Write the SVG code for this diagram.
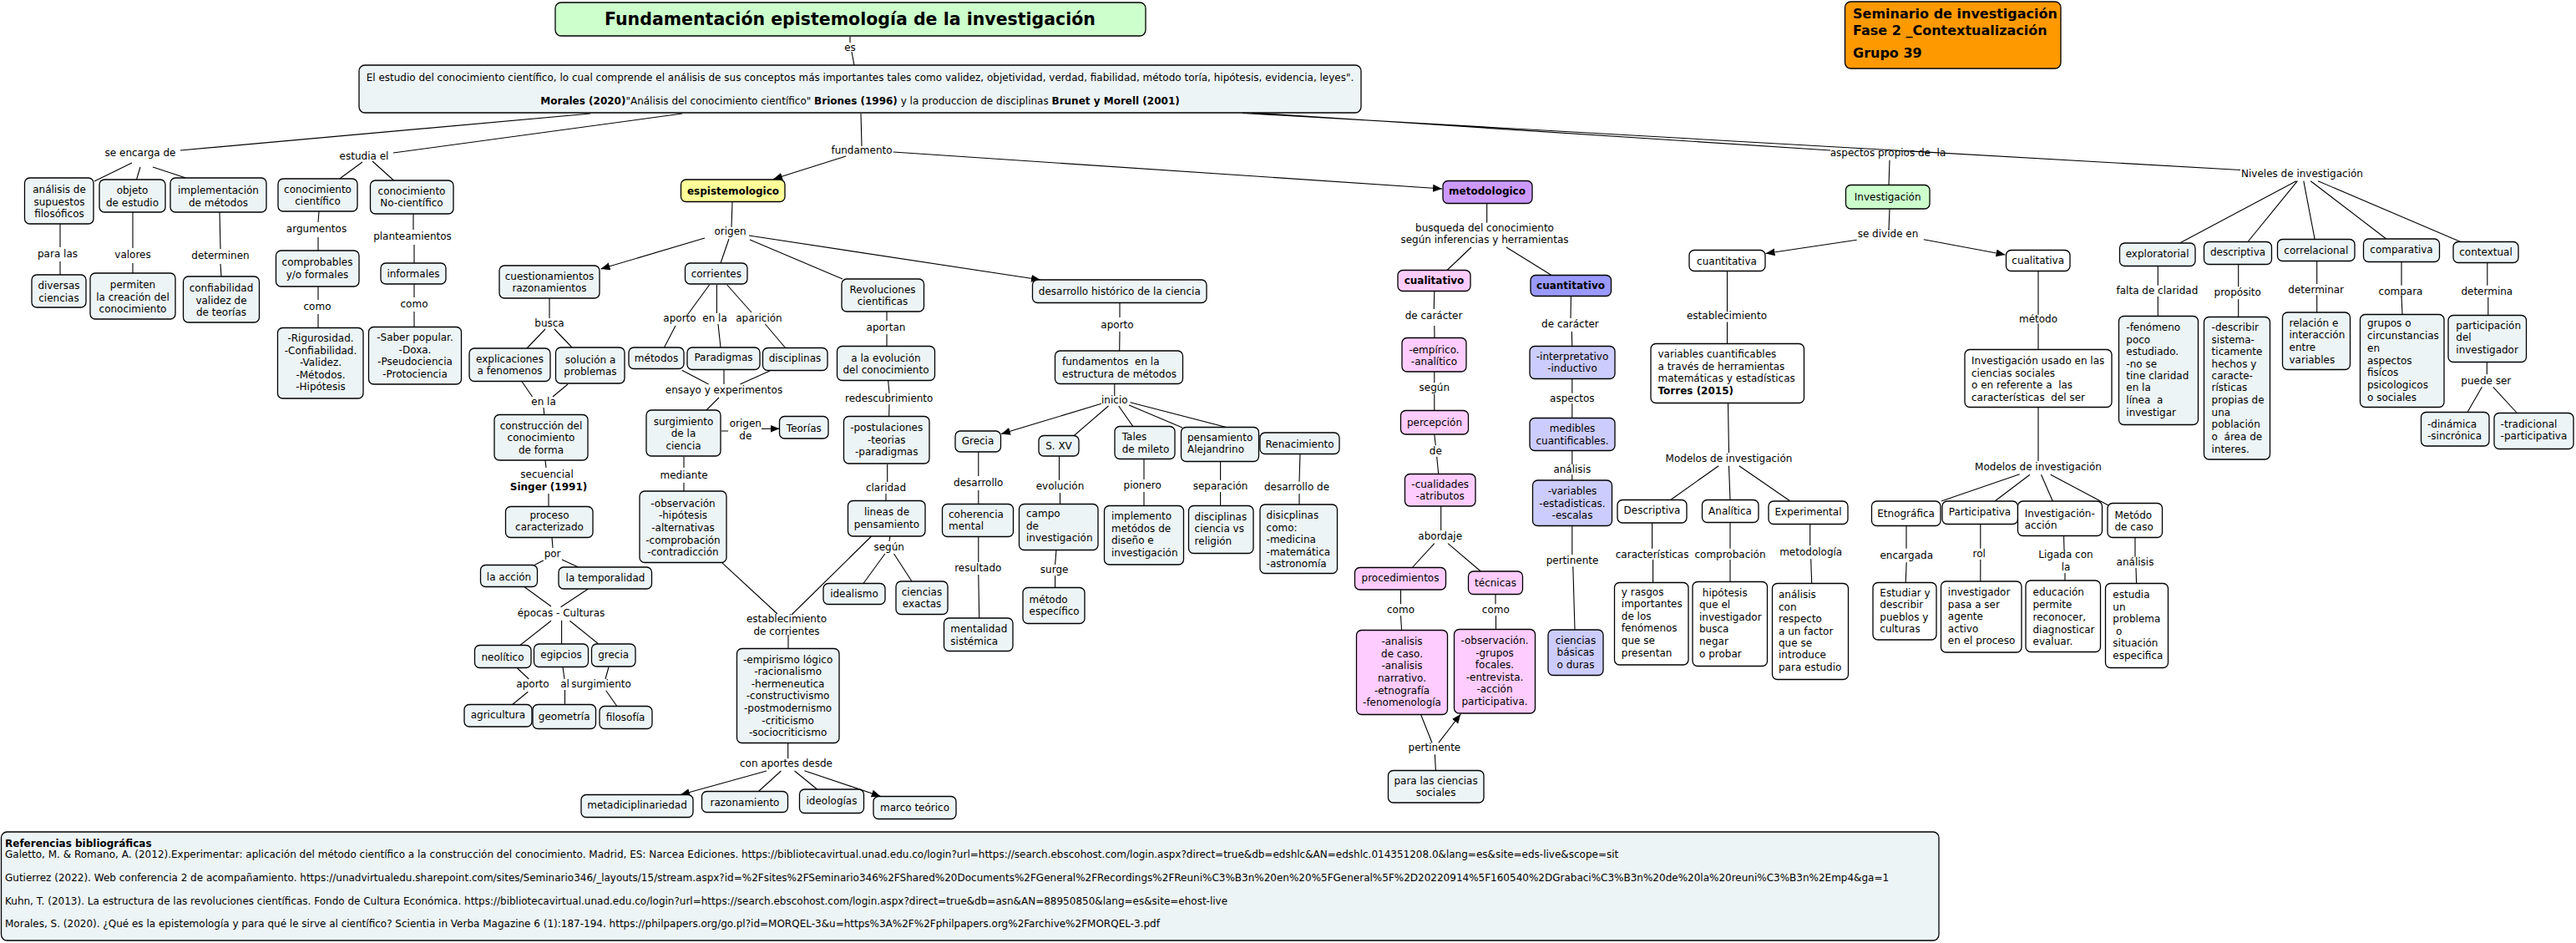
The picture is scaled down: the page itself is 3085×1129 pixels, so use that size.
<svg xmlns="http://www.w3.org/2000/svg" width="3085" height="1129" viewBox="0 0 3085 1129">
<style>
text{font-family:'DejaVu Sans',Verdana,sans-serif;font-size:12px;fill:#000}
.m{text-anchor:middle}
.b{font-weight:bold}
.c{fill:#EDF4F6;stroke:#000;stroke-width:1.3}
.w{fill:#FFFFFF}.pk{fill:#FFCCFF}.lv{fill:#CCCCFF}.bl{fill:#9999FF}.pu{fill:#CC99FF}.gr{fill:#CCFFCC}.yl{fill:#FFFF99}.or{fill:#FF9900}
.ln{fill:none;stroke:#000;stroke-width:1.1}
</style>
<defs>
<marker id="ah" markerUnits="userSpaceOnUse" markerWidth="12" markerHeight="10" refX="11" refY="4.5" orient="auto"><path d="M0,0 L11,4.5 L0,9 z" fill="#000"/></marker>
</defs>
<rect width="3085" height="1129" fill="#fff"/>
<g id="connectors">
<path class="ln" d="M1018,44 L1018,51 M1020,62 L1023,78 M707,136 L216,180 M817,136 L471,183 M158,195 L113,217 M168,200 L163.5,215 M183,200 L222.5,213 M434,194 L406.7,214 M446,193 L471.5,216 M72,268 L72,296 M72,313 L72,329 M159,254 L159,297 M159,315 L159,327 M263,254 L264,298 M264,316 L265,331 M382,253 L381,266 M381,284 L381,300 M495,256 L495,275 M496,293 L496,315 M381,343 L381,359 M381,376 L381,393 M496,340 L496,356 M496,373 L496,392"/>
<path class="ln" d="M1031,136 L1032,175 M877,242 L876,272 M873,286 L863,315 M898,287 L1009,334 M849.6,341 L824,376 M809,390 L795.5,416 M858.4,341 L858.4,375 M860,388 L863,416 M870.7,341 L900,374 M916.4,388 L941,417 M816.7,443.3 L848.6,460 M867,443 L867,460 M922,444 L886.4,460 M861,476 L846,491 M864,516 L872,516 M819,546.7 L819,560 M819,578 L819,588 M1062,373 L1062,384 M1062,400 L1062,414.5 M1063.7,456 L1065,471 M1065,484 L1064.7,498.5 M1062.7,555.7 L1062.7,577 M1061,591 L1061,599.5 M1066,642 L1065,648 M1059.8,663 L1034,698.5 M1070.6,663 L1092,696 M1043.6,642 L948,736 M864.3,673.3 L931,735 M944,760 L944,776.7 M943.7,890 L943.7,908 M935.4,923 L908.4,947.5 M951.6,923 L978.6,945"/>
<path class="ln" d="M658,357 L658,381 M653,394 L631,417 M664,394 L685,416 M625,456.7 L637.5,475 M680,460 L662,475 M651,488 L651.8,496.7 M653,551 L654,560 M657,591 L657,606.7 M661,643.3 L662,656 M650.8,671 L639.5,676.7 M673,670 L692.5,679 M628.4,703 L660,726 M704.5,705 L671.6,726.7 M660,743.3 L622.5,772.7 M672.6,742.7 L672.6,771 M682.4,743.3 L716.8,771 M619.6,800 L633.3,813 M632.3,828.3 L613.7,843.5 M674,798.5 L676,813 M676.5,826 L676.5,843.5 M729,798.5 L725,813 M725.7,826.7 L739,845.7"/>
<path class="ln" d="M1341,362.5 L1341,380 M1341,397 L1340.7,420 M1334.8,460 L1334.8,474 M1327.5,486 L1285.7,522 M1339.7,486 L1357,510.7 M1352,485 L1416,512 M1353.5,481.7 L1509,522 M1171.8,540.7 L1171.8,570 M1171.8,587 L1171.8,603.5 M1171.8,642.3 L1171.8,673 M1171.8,688 L1172.7,740 M1268.5,546 L1268.5,575 M1269.5,590 L1269.5,603.5 M1265,658.3 L1263.6,676 M1263.6,689 L1263.6,703.5 M1370,549.3 L1370,574 M1370,589 L1370,605.7 M1461.6,552.3 L1461.6,575 M1461.6,589 L1461.6,605.7 M1557,543.3 L1556,576.7 M1556,591 L1556,604"/>
<path class="ln" d="M1780.7,243.5 L1780.7,266.7 M1762,296 L1733,323.5 M1804,296 L1858,329.5 M1717.8,348.5 L1717.3,370 M1717.8,390 L1718,404.5 M1881.4,354.5 L1881,381 M1882.3,397 L1882.8,414.5 M1717.8,445 L1717.8,458.3 M1717.8,471.7 L1717.8,491.7 M1717.8,520 L1719.3,533.3 M1720.7,546.7 L1722.7,567.5 M1725.7,606 L1725.7,635 M1717.8,650.7 L1691.3,679.5 M1734,650.7 L1773.3,684 M1677.5,706 L1677.5,723.3 M1677.5,737 L1678.6,754.5 M1791,711.5 L1791,723.3 M1791.5,737 L1791.5,753.5 M1701.7,855.7 L1715,889.3 M1718.4,903.3 L1719.4,922.5 M1882.8,453.5 L1882.8,470.7 M1882.8,483.3 L1882.8,500.7 M1882.8,539.5 L1882.8,556 M1882.8,568.3 L1882.8,575 M1882.8,629.5 L1882.8,664.3 M1883.8,678.3 L1886,754"/>
<path class="ln" d="M1500,135 L2192,180 M1488,135.5 L2683,203.5 M2263,191.7 L2262,221.7 M2263,250 L2262,275 M2068.5,324.5 L2068.5,373.3 M2068.5,385.5 L2068.5,411.7 M2069.5,482.5 L2070.5,542.3 M2058.2,557.7 L2000.7,598.5 M2070.5,557.7 L2072,598.5 M2082.7,557.7 L2144,600 M1978.6,626 L1978.6,656.7 M1979.6,670 L1979.6,697.5 M2072,625.5 L2072,656.7 M2072,670 L2072,696.7 M2167.7,627.5 L2167.7,653.3 M2168.7,669.3 L2169.7,698.5 M2441,324.5 L2441,376.7 M2441,387.3 L2441,418.5 M2441,487.5 L2441,552 M2418.7,567.7 L2324.8,600 M2431,568.3 L2389,600 M2444.5,568.3 L2458.3,600 M2455.8,568.3 L2525,605 M2283,629.5 L2283,656.7 M2283.2,673.3 L2282.2,697.5 M2371.8,627.5 L2371.8,656.7 M2371.8,670 L2371.8,696 M2471.6,641.5 L2472,658.3 M2473,686 L2473,695 M2557,643.5 L2557,666.7 M2558,680 L2558.6,698.5"/>
<path class="ln" d="M2750,216.7 L2610.5,291 M2751.4,216.7 L2692,289.5 M2758.8,216.7 L2772.2,286.7 M2767.2,216.7 L2857.7,286 M2776,216.7 L2946.7,289.5 M2584.3,318.5 L2584.3,341.7 M2584.3,355 L2584.3,378.5 M2680.7,316.5 L2680.7,343.3 M2680.7,358.3 L2680.7,379.5 M2774.7,312.5 L2774.7,340 M2774.7,353.3 L2774.7,374 M2876,313.5 L2876,341.7 M2876,355 L2877,376.5 M2978.8,314.5 L2978.8,341.7 M2979.8,356 L2979.8,377.5 M2978.3,433.5 L2978.3,448.3 M2972.4,463.3 L2955,493.5 M2985.7,463.3 L3014.4,494.5"/>
<path class="ln" marker-end="url(#ah)" d="M1013,187 L926,214.5"/>
<path class="ln" marker-end="url(#ah)" d="M1070,182 L1727,226"/>
<path class="ln" marker-end="url(#ah)" d="M844,285 L719.5,322"/>
<path class="ln" marker-end="url(#ah)" d="M897,282 L1246,335"/>
<path class="ln" marker-end="url(#ah)" d="M912,513.3 L933.5,513.3"/>
<path class="ln" marker-end="url(#ah)" d="M918,923 L815,951.5"/>
<path class="ln" marker-end="url(#ah)" d="M963.4,922.7 L1054.7,953.5"/>
<path class="ln" marker-end="url(#ah)" d="M1319,483.3 L1199,519.5"/>
<path class="ln" marker-end="url(#ah)" d="M1722.8,889.3 L1749.3,855"/>
<path class="ln" marker-end="url(#ah)" d="M2223.7,287.3 L2114.5,303.5"/>
<path class="ln" marker-end="url(#ah)" d="M2303.8,286.7 L2401.5,305"/>
</g>
<g id="title"><rect class="c gr" x="665" y="3" width="707" height="40" rx="7"/><text class="m b" x="1018" y="30" style="font-size:20.5px">Fundamentación epistemología de la investigación</text></g>
<g id="seminario"><rect class="c or" x="2209.5" y="2" width="258.5" height="80" rx="7"/><text class="b" style="font-size:16px"><tspan x="2219" y="22">Seminario de investigación</tspan><tspan x="2219" y="41.5">Fase 2 _Contextualización</tspan><tspan x="2219" y="69">Grupo 39</tspan></text></g>
<g id="principal"><rect class="c" x="430" y="78" width="1200" height="57" rx="7"/><text class="m" x="1030" y="96.5">El estudio del conocimiento científico, lo cual comprende el análisis de sus conceptos más importantes tales como validez, objetividad, verdad, fiabilidad, método toría, hipótesis, evidencia, leyes".</text><text class="m" x="1030" y="125" xml:space="preserve"><tspan class="b">Morales (2020)</tspan>"Análisis del conocimiento científico" <tspan class="b">Briones (1996)</tspan> y la produccion de disciplinas <tspan class="b">Brunet y Morell (2001)</tspan></text></g>
<g id="n4"><rect class="c" x="29.5" y="213" width="82.5" height="55" rx="6"/><text class="m"><tspan x="71" y="231">análisis de</tspan><tspan x="71" y="246">supuestos</tspan><tspan x="71" y="260">filosóficos</tspan></text></g>
<g id="n5"><rect class="c" x="119" y="215" width="79" height="39" rx="6"/><text class="m"><tspan x="158.5" y="232">objeto</tspan><tspan x="158.5" y="247">de estudio</tspan></text></g>
<g id="n6"><rect class="c" x="204" y="213" width="115" height="41" rx="6"/><text class="m"><tspan x="261.5" y="232.3">implementación</tspan><tspan x="261.5" y="246.7">de métodos</tspan></text></g>
<g id="n7"><rect class="c" x="333" y="214" width="95" height="39" rx="6"/><text class="m"><tspan x="380.5" y="230.7">conocimiento</tspan><tspan x="380.5" y="244.7">científico</tspan></text></g>
<g id="n8"><rect class="c" x="443.5" y="216" width="99.5" height="40" rx="6"/><text class="m"><tspan x="493" y="233">conocimiento</tspan><tspan x="493" y="247.3">No-científico</tspan></text></g>
<g id="n9"><rect class="c" x="38" y="329" width="65" height="39" rx="6"/><text class="m"><tspan x="70.5" y="346">diversas</tspan><tspan x="70.5" y="361">ciencias</tspan></text></g>
<g id="n10"><rect class="c" x="108" y="327" width="102" height="55" rx="6"/><text class="m"><tspan x="159" y="345">permiten</tspan><tspan x="159" y="359.5">la creación del</tspan><tspan x="159" y="374">conocimiento</tspan></text></g>
<g id="n11"><rect class="c" x="219.5" y="331" width="91" height="55" rx="6"/><text class="m"><tspan x="265" y="349">confiabilidad</tspan><tspan x="265" y="363.5">validez de</tspan><tspan x="265" y="378">de teorías</tspan></text></g>
<g id="n12"><rect class="c" x="330.5" y="300" width="99.5" height="43" rx="6"/><text class="m"><tspan x="380" y="318">comprobables</tspan><tspan x="380" y="332.5">y/o formales</tspan></text></g>
<g id="n13"><rect class="c" x="456" y="315" width="78" height="25" rx="6"/><text class="m" x="495" y="332">informales</text></g>
<g id="n14"><rect class="c" x="598" y="318" width="120" height="39" rx="6"/><text class="m"><tspan x="658" y="335">cuestionamientos</tspan><tspan x="658" y="349">razonamientos</tspan></text></g>
<g id="n15"><rect class="c" x="332.5" y="392.5" width="102.5" height="84.5" rx="6"/><text class="m"><tspan x="384" y="409">-Rigurosidad.</tspan><tspan x="384" y="423.7">-Confiabilidad.</tspan><tspan x="384" y="438">-Validez.</tspan><tspan x="384" y="452.7">-Métodos.</tspan><tspan x="384" y="467.3">-Hipótesis</tspan></text></g>
<g id="n16"><rect class="c" x="441.5" y="391.5" width="111" height="68.5" rx="6"/><text class="m"><tspan x="497" y="408.3">-Saber popular.</tspan><tspan x="497" y="422.7">-Doxa.</tspan><tspan x="497" y="437">-Pseudociencia</tspan><tspan x="497" y="451.7">-Protociencia</tspan></text></g>
<g id="n17"><rect class="c" x="562" y="417" width="97" height="39.5" rx="6"/><text class="m"><tspan x="610.5" y="434">explicaciones</tspan><tspan x="610.5" y="448.3">a fenomenos</tspan></text></g>
<g id="n18"><rect class="c" x="665.5" y="416" width="82.5" height="43" rx="6"/><text class="m"><tspan x="707" y="435">solución a</tspan><tspan x="707" y="449.3">problemas</tspan></text></g>
<g id="n19"><rect class="c" x="592" y="496.5" width="112" height="54.5" rx="6"/><text class="m"><tspan x="648" y="514">construcción del</tspan><tspan x="648" y="528.3">conocimiento</tspan><tspan x="648" y="542.7">de forma</tspan></text></g>
<g id="n20"><rect class="c" x="605.5" y="606.5" width="104.5" height="37" rx="6"/><text class="m"><tspan x="658" y="621.3">proceso</tspan><tspan x="658" y="635">caracterizado</tspan></text></g>
<g id="n21"><rect class="c" x="575.5" y="676.5" width="68" height="26" rx="6"/><text class="m" x="609.5" y="694.7">la acción</text></g>
<g id="n22"><rect class="c" x="669" y="679" width="111.5" height="26" rx="6"/><text class="m" x="725" y="695.5">la temporalidad</text></g>
<g id="n23"><rect class="c" x="568.5" y="772.5" width="67.5" height="27" rx="6"/><text class="m" x="602" y="790.7">neolítico</text></g>
<g id="n24"><rect class="c" x="639.5" y="771" width="65" height="27.5" rx="6"/><text class="m" x="672" y="788">egipcios</text></g>
<g id="n25"><rect class="c" x="708.5" y="771" width="52.5" height="27" rx="6"/><text class="m" x="734.7" y="788">grecia</text></g>
<g id="n26"><rect class="c" x="556" y="843.5" width="81" height="26.5" rx="6"/><text class="m" x="596.4" y="860">agricultura</text></g>
<g id="n27"><rect class="c" x="638" y="843.5" width="75.5" height="29" rx="6"/><text class="m" x="675.7" y="861.7">geometría</text></g>
<g id="n28"><rect class="c" x="718" y="845.5" width="63" height="27" rx="6"/><text class="m" x="749" y="863.3">filosofía</text></g>
<g id="n29"><rect class="c yl" x="815.5" y="215" width="124.5" height="26.5" rx="6"/><text class="m b" x="878" y="232.7">espistemologico</text></g>
<g id="n30"><rect class="c" x="820.5" y="315" width="74.5" height="25" rx="6"/><text class="m" x="857.8" y="332.3">corrientes</text></g>
<g id="n31"><rect class="c" x="1008" y="334" width="98.5" height="39" rx="6"/><text class="m"><tspan x="1057" y="350.7">Revoluciones</tspan><tspan x="1057" y="365">cientificas</tspan></text></g>
<g id="n32"><rect class="c" x="1236.5" y="335" width="208.5" height="27.5" rx="6"/><text class="m" x="1340.8" y="353.3">desarrollo histórico de la ciencia</text></g>
<g id="n33"><rect class="c" x="753" y="416" width="66" height="25.5" rx="6"/><text class="m" x="786" y="433">métodos</text></g>
<g id="n34"><rect class="c" x="823" y="416" width="87" height="26.5" rx="6"/><text class="m" x="866.5" y="431.7">Paradigmas</text></g>
<g id="n35"><rect class="c" x="913.5" y="416.5" width="77.5" height="27" rx="6"/><text class="m" x="952" y="433.3">disciplinas</text></g>
<g id="n36"><rect class="c" x="774" y="491" width="89" height="55" rx="6"/><text class="m"><tspan x="818.5" y="509">surgimiento</tspan><tspan x="818.5" y="523.3">de la</tspan><tspan x="818.5" y="538">ciencia</tspan></text></g>
<g id="n37"><rect class="c" x="933.5" y="498.5" width="58.5" height="26.5" rx="6"/><text class="m" x="962.8" y="516.7">Teorías</text></g>
<g id="n38"><rect class="c" x="766" y="588" width="104" height="85.5" rx="6"/><text class="m"><tspan x="818" y="606.7">-observación</tspan><tspan x="818" y="621.3">-hipótesis</tspan><tspan x="818" y="635.7">-alternativas</tspan><tspan x="818" y="650.7">-comprobación</tspan><tspan x="818" y="665">-contradicción</tspan></text></g>
<g id="n39"><rect class="c" x="1002.5" y="414.5" width="117" height="41" rx="6"/><text class="m"><tspan x="1061" y="433">a la evolución</tspan><tspan x="1061" y="447.3">del conocimiento</tspan></text></g>
<g id="n40"><rect class="c" x="1010.5" y="498.5" width="102.5" height="56.5" rx="6"/><text class="m"><tspan x="1061.7" y="516.3">-postulaciones</tspan><tspan x="1061.7" y="530.7">-teorias</tspan><tspan x="1061.7" y="545.3">-paradigmas</tspan></text></g>
<g id="n41"><rect class="c" x="1015.5" y="599.5" width="92.5" height="42.5" rx="6"/><text class="m"><tspan x="1062" y="617.3">lineas de</tspan><tspan x="1062" y="631.7">pensamiento</tspan></text></g>
<g id="n42"><rect class="c" x="986" y="698.5" width="74" height="25" rx="6"/><text class="m" x="1023" y="715">idealismo</text></g>
<g id="n43"><rect class="c" x="1073" y="696" width="62" height="39.5" rx="6"/><text class="m"><tspan x="1104" y="713">ciencias</tspan><tspan x="1104" y="727.3">exactas</tspan></text></g>
<g id="n44"><rect class="c" x="882.5" y="776.5" width="122.5" height="113" rx="6"/><text class="m"><tspan x="943.6" y="794">-empirismo lógico</tspan><tspan x="943.6" y="808.3">-racionalismo</tspan><tspan x="943.6" y="823">-hermeneutica</tspan><tspan x="943.6" y="837.3">-constructivismo</tspan><tspan x="943.6" y="852.3">-postmodernismo</tspan><tspan x="943.6" y="866.7">-criticismo</tspan><tspan x="943.6" y="881.3">-sociocriticismo</tspan></text></g>
<g id="n45"><rect class="c" x="696" y="951.5" width="134" height="27" rx="6"/><text class="m" x="763" y="968">metadiciplinariedad</text></g>
<g id="n46"><rect class="c" x="840.5" y="947.5" width="103" height="25" rx="6"/><text class="m" x="892" y="964.7">razonamiento</text></g>
<g id="n47"><rect class="c" x="957.5" y="945" width="77" height="28.5" rx="6"/><text class="m" x="996" y="963">ideologías</text></g>
<g id="n48"><rect class="c" x="1046" y="953.5" width="99" height="27" rx="6"/><text class="m" x="1095.5" y="971.3">marco teórico</text></g>
<g id="n49"><rect class="c" x="1263.5" y="420" width="153" height="39.5" rx="6"/><text xml:space="preserve"><tspan x="1272" y="437.3">fundamentos  en la</tspan><tspan x="1272" y="451.7">estructura de métodos</tspan></text></g>
<g id="n50"><rect class="c" x="1144" y="516" width="54.5" height="25" rx="6"/><text class="m" x="1171" y="532">Grecia</text></g>
<g id="n51"><rect class="c" x="1244" y="521.5" width="48" height="24.5" rx="6"/><text class="m" x="1268" y="538">S. XV</text></g>
<g id="n52"><rect class="c" x="1335" y="510.5" width="72" height="39" rx="6"/><text><tspan x="1343.7" y="527.3">Tales</tspan><tspan x="1343.7" y="541.7">de mileto</tspan></text></g>
<g id="n53"><rect class="c" x="1414.5" y="511.5" width="93" height="41" rx="6"/><text><tspan x="1422" y="528">pensamiento</tspan><tspan x="1422" y="542.3">Alejandrino</tspan></text></g>
<g id="n54"><rect class="c" x="1509" y="518" width="95" height="25.5" rx="6"/><text class="m" x="1556.6" y="535.7">Renacimiento</text></g>
<g id="n55"><rect class="c" x="1128.5" y="603.5" width="85" height="39" rx="6"/><text><tspan x="1136" y="620">coherencia</tspan><tspan x="1136" y="634">mental</tspan></text></g>
<g id="n56"><rect class="c" x="1130.5" y="740" width="82.5" height="39.5" rx="6"/><text><tspan x="1138.3" y="757.3">mentalidad</tspan><tspan x="1138.3" y="771.7">sistémica</tspan></text></g>
<g id="n57"><rect class="c" x="1220.5" y="603.5" width="94.5" height="55" rx="6"/><text><tspan x="1229" y="619.3">campo</tspan><tspan x="1229" y="633.7">de</tspan><tspan x="1229" y="648">investigación</tspan></text></g>
<g id="n58"><rect class="c" x="1225" y="703.5" width="74" height="43" rx="6"/><text><tspan x="1232.6" y="721.7">método</tspan><tspan x="1232.6" y="736.3">específico</tspan></text></g>
<g id="n59"><rect class="c" x="1322.5" y="605.5" width="95" height="70.5" rx="6"/><text><tspan x="1331" y="622.3">implemento</tspan><tspan x="1331" y="636.7">metódos de</tspan><tspan x="1331" y="651.3">diseño e</tspan><tspan x="1331" y="665.7">investigación</tspan></text></g>
<g id="n60"><rect class="c" x="1423.5" y="605.5" width="77.5" height="57" rx="6"/><text><tspan x="1430.6" y="623">disciplinas</tspan><tspan x="1430.6" y="637.3">ciencia vs</tspan><tspan x="1430.6" y="651.7">religión</tspan></text></g>
<g id="n61"><rect class="c" x="1509" y="604" width="92.5" height="82.5" rx="6"/><text><tspan x="1516.6" y="621.3">disicplinas</tspan><tspan x="1516.6" y="635.7">como:</tspan><tspan x="1516.6" y="650">-medicina</tspan><tspan x="1516.6" y="664.7">-matemática</tspan><tspan x="1516.6" y="679">-astronomía</tspan></text></g>
<g id="n62"><rect class="c pu" x="1728" y="216.5" width="107" height="27" rx="6"/><text class="m b" x="1781" y="233.3">metodologico</text></g>
<g id="n63"><rect class="c pk" x="1674" y="323.5" width="87" height="25" rx="6"/><text class="m b" x="1717.5" y="340">cualitativo</text></g>
<g id="n64"><rect class="c bl" x="1833" y="329.5" width="96.5" height="25" rx="6"/><text class="m b" x="1881" y="345.7">cuantitativo</text></g>
<g id="n65"><rect class="c pk" x="1679" y="404.5" width="77" height="40.5" rx="6"/><text class="m"><tspan x="1717.5" y="423">-empírico.</tspan><tspan x="1717.5" y="437.3">-analítico</tspan></text></g>
<g id="n66"><rect class="c pk" x="1677.5" y="491.5" width="81" height="28.5" rx="6"/><text class="m" x="1718" y="509.7">percepción</text></g>
<g id="n67"><rect class="c pk" x="1682.5" y="567.5" width="84.5" height="38.5" rx="6"/><text class="m"><tspan x="1724.7" y="584">-cualidades</tspan><tspan x="1724.7" y="598.3">-atributos</tspan></text></g>
<g id="n68"><rect class="c pk" x="1622.5" y="679.5" width="109" height="26.5" rx="6"/><text class="m" x="1677" y="696.3">procedimientos</text></g>
<g id="n69"><rect class="c pk" x="1758.5" y="684" width="65" height="27.5" rx="6"/><text class="m" x="1791" y="702.3">técnicas</text></g>
<g id="n70"><rect class="c pk" x="1624.5" y="754.5" width="109" height="101" rx="6"/><text class="m"><tspan x="1679" y="772.3">-analisis</tspan><tspan x="1679" y="786.7">de caso.</tspan><tspan x="1679" y="801.3">-analisis</tspan><tspan x="1679" y="816">narrativo.</tspan><tspan x="1679" y="830.7">-etnografía</tspan><tspan x="1679" y="845">-fenomenología</tspan></text></g>
<g id="n71"><rect class="c pk" x="1741.5" y="753.5" width="97" height="100.5" rx="6"/><text class="m"><tspan x="1790" y="770.7">-observación.</tspan><tspan x="1790" y="785.7">-grupos</tspan><tspan x="1790" y="800">focales.</tspan><tspan x="1790" y="814.7">-entrevista.</tspan><tspan x="1790" y="829">-acción</tspan><tspan x="1790" y="844">participativa.</tspan></text></g>
<g id="n72"><rect class="c" x="1662.5" y="922.5" width="114.5" height="38.5" rx="6"/><text class="m"><tspan x="1719.6" y="939.3">para las ciencias</tspan><tspan x="1719.6" y="953.3">sociales</tspan></text></g>
<g id="n73"><rect class="c lv" x="1832" y="414.5" width="102" height="39" rx="6"/><text class="m"><tspan x="1883" y="430.7">-interpretativo</tspan><tspan x="1883" y="445">-inductivo</tspan></text></g>
<g id="n74"><rect class="c lv" x="1832" y="500.5" width="102" height="39" rx="6"/><text class="m"><tspan x="1883" y="517.3">medibles</tspan><tspan x="1883" y="531.7">cuantificables.</tspan></text></g>
<g id="n75"><rect class="c lv" x="1835.5" y="575" width="95" height="54.5" rx="6"/><text class="m"><tspan x="1883" y="592.3">-variables</tspan><tspan x="1883" y="606.7">-estadisticas.</tspan><tspan x="1883" y="621.3">-escalas</tspan></text></g>
<g id="n76"><rect class="c lv" x="1854" y="754" width="66" height="54.5" rx="6"/><text class="m"><tspan x="1887" y="770.7">ciencias</tspan><tspan x="1887" y="785">básicas</tspan><tspan x="1887" y="799.7">o duras</tspan></text></g>
<g id="n77"><rect class="c gr" x="2210.5" y="221.5" width="100.5" height="28.5" rx="6"/><text class="m" x="2260.7" y="239.7">Investigación</text></g>
<g id="n78"><rect class="c w" x="2023" y="299.5" width="91" height="25" rx="6"/><text class="m" x="2068" y="316.7">cuantitativa</text></g>
<g id="n79"><rect class="c w" x="2402.5" y="299.5" width="76.5" height="25" rx="6"/><text class="m" x="2440.7" y="316.3">cualitativa</text></g>
<g id="n80"><rect class="c w" x="1977" y="411.5" width="183.5" height="71" rx="6"/><text><tspan x="1985.5" y="428">variables cuantificables</tspan><tspan x="1985.5" y="443">a través de herramientas</tspan><tspan x="1985.5" y="457.3">matemáticas y estadísticas</tspan><tspan class="b" x="1985.5" y="471.7">Torres (2015)</tspan></text></g>
<g id="n81"><rect class="c w" x="1937" y="598.5" width="83" height="27.5" rx="6"/><text class="m" x="1978.5" y="614.7">Descriptiva</text></g>
<g id="n82"><rect class="c w" x="2038.5" y="598.5" width="67.5" height="27" rx="6"/><text class="m" x="2072" y="616.3">Analítica</text></g>
<g id="n83"><rect class="c w" x="2118" y="600" width="95" height="27.5" rx="6"/><text class="m" x="2165.5" y="616.7">Experimental</text></g>
<g id="n84"><rect class="c w" x="1933.5" y="697.5" width="88.5" height="98.5" rx="6"/><text><tspan x="1941.8" y="713">y rasgos</tspan><tspan x="1941.8" y="727.3">importantes</tspan><tspan x="1941.8" y="741.7">de los</tspan><tspan x="1941.8" y="756.3">fenómenos</tspan><tspan x="1941.8" y="771">que se</tspan><tspan x="1941.8" y="785.7">presentan</tspan></text></g>
<g id="n85"><rect class="c w" x="2027" y="696.5" width="89.5" height="101" rx="6"/><text xml:space="preserve"><tspan x="2035" y="714"> hipótesis</tspan><tspan x="2035" y="728.3">que el</tspan><tspan x="2035" y="743">investigador</tspan><tspan x="2035" y="757.3">busca</tspan><tspan x="2035" y="772">negar</tspan><tspan x="2035" y="786.7">o probar</tspan></text></g>
<g id="n86"><rect class="c w" x="2122.5" y="698.5" width="91" height="115" rx="6"/><text><tspan x="2130" y="715.7">análisis</tspan><tspan x="2130" y="730.7">con</tspan><tspan x="2130" y="745">respecto</tspan><tspan x="2130" y="759.7">a un factor</tspan><tspan x="2130" y="774">que se</tspan><tspan x="2130" y="788.3">introduce</tspan><tspan x="2130" y="803">para estudio</tspan></text></g>
<g id="n87"><rect class="c w" x="2353" y="418.5" width="176" height="69" rx="6"/><text xml:space="preserve"><tspan x="2361" y="436.3">Investigación usado en las</tspan><tspan x="2361" y="450.7">ciencias sociales</tspan><tspan x="2361" y="465">o en referente a  las</tspan><tspan x="2361" y="479.7">características  del ser</tspan></text></g>
<g id="n88"><rect class="c w" x="2241.5" y="600" width="82.5" height="29.5" rx="6"/><text class="m" x="2282.6" y="619">Etnográfica</text></g>
<g id="n89"><rect class="c w" x="2326" y="600" width="90.5" height="27.5" rx="6"/><text class="m" x="2371" y="616.7">Participativa</text></g>
<g id="n90"><rect class="c w" x="2416.5" y="600" width="101" height="41.5" rx="6"/><text><tspan x="2424.7" y="619">Investigación-</tspan><tspan x="2424.7" y="633.3">acción</tspan></text></g>
<g id="n91"><rect class="c w" x="2524" y="602.5" width="65.5" height="41" rx="6"/><text><tspan x="2532.4" y="620.7">Metódo</tspan><tspan x="2532.4" y="635">de caso</tspan></text></g>
<g id="n92"><rect class="c w" x="2243" y="697.5" width="76" height="68.5" rx="6"/><text><tspan x="2251.3" y="714">Estudiar y</tspan><tspan x="2251.3" y="728.3">describir</tspan><tspan x="2251.3" y="743">pueblos y</tspan><tspan x="2251.3" y="757.3">culturas</tspan></text></g>
<g id="n93"><rect class="c w" x="2324.5" y="696" width="96.5" height="85" rx="6"/><text><tspan x="2332.8" y="713.3">investigador</tspan><tspan x="2332.8" y="728">pasa a ser</tspan><tspan x="2332.8" y="742.3">agente</tspan><tspan x="2332.8" y="756.7">activo</tspan><tspan x="2332.8" y="771.3">en el proceso</tspan></text></g>
<g id="n94"><rect class="c w" x="2426" y="695" width="89.5" height="85.5" rx="6"/><text><tspan x="2434.5" y="713.3">educación</tspan><tspan x="2434.5" y="728">permite</tspan><tspan x="2434.5" y="743">reconocer,</tspan><tspan x="2434.5" y="757.7">diagnosticar</tspan><tspan x="2434.5" y="772">evaluar.</tspan></text></g>
<g id="n95"><rect class="c w" x="2521.5" y="698.5" width="75" height="101" rx="6"/><text xml:space="preserve"><tspan x="2530.3" y="716.3">estudia</tspan><tspan x="2530.3" y="730.7">un</tspan><tspan x="2530.3" y="745">problema</tspan><tspan x="2530.3" y="759.7"> o</tspan><tspan x="2530.3" y="774">situación</tspan><tspan x="2530.3" y="789">especifica</tspan></text></g>
<g id="n96"><rect class="c" x="2538.5" y="291" width="90.5" height="27.5" rx="6"/><text class="m" x="2583.6" y="308">exploratorial</text></g>
<g id="n97"><rect class="c" x="2639.5" y="289.5" width="81" height="27" rx="6"/><text class="m" x="2680" y="306.3">descriptiva</text></g>
<g id="n98"><rect class="c" x="2727.5" y="286.5" width="92.5" height="26" rx="6"/><text class="m" x="2773.8" y="304">correlacional</text></g>
<g id="n99"><rect class="c" x="2830.5" y="286" width="91" height="27.5" rx="6"/><text class="m" x="2876" y="303">comparativa</text></g>
<g id="n100"><rect class="c" x="2938" y="289.5" width="78" height="25" rx="6"/><text class="m" x="2977" y="306.3">contextual</text></g>
<g id="n101"><rect class="c" x="2537.5" y="378.5" width="95" height="130" rx="6"/><text xml:space="preserve"><tspan x="2546.3" y="396.3">-fenómeno</tspan><tspan x="2546.3" y="410.7">poco</tspan><tspan x="2546.3" y="425">estudiado.</tspan><tspan x="2546.3" y="439.7">-no se</tspan><tspan x="2546.3" y="454">tine claridad</tspan><tspan x="2546.3" y="468.3">en la</tspan><tspan x="2546.3" y="483.3">línea  a</tspan><tspan x="2546.3" y="498">investigar</tspan></text></g>
<g id="n102"><rect class="c" x="2639.5" y="379.5" width="79" height="170.5" rx="6"/><text xml:space="preserve"><tspan x="2648.6" y="396.3">-describir</tspan><tspan x="2648.6" y="410.7">sistema-</tspan><tspan x="2648.6" y="425">ticamente</tspan><tspan x="2648.6" y="439.7">hechos y</tspan><tspan x="2648.6" y="454">caracte-</tspan><tspan x="2648.6" y="468.3">rísticas</tspan><tspan x="2648.6" y="483.3">propias de</tspan><tspan x="2648.6" y="498">una</tspan><tspan x="2648.6" y="512.3">población</tspan><tspan x="2648.6" y="527.3">o  área de</tspan><tspan x="2648.6" y="541.7">interes.</tspan></text></g>
<g id="n103"><rect class="c" x="2733.5" y="374" width="81" height="68.5" rx="6"/><text><tspan x="2741.5" y="390.7">relación e</tspan><tspan x="2741.5" y="405">interacción</tspan><tspan x="2741.5" y="419.7">entre</tspan><tspan x="2741.5" y="434.7">variables</tspan></text></g>
<g id="n104"><rect class="c" x="2826.5" y="376.5" width="100.5" height="111" rx="6"/><text><tspan x="2835" y="391.3">grupos o</tspan><tspan x="2835" y="406.3">circunstancias</tspan><tspan x="2835" y="420.7">en</tspan><tspan x="2835" y="435.7">aspectos</tspan><tspan x="2835" y="450">fisícos</tspan><tspan x="2835" y="464.7">psicologicos</tspan><tspan x="2835" y="479.7">o sociales</tspan></text></g>
<g id="n105"><rect class="c" x="2932" y="377.5" width="93.5" height="56" rx="6"/><text><tspan x="2941.3" y="394">participación</tspan><tspan x="2941.3" y="408.3">del</tspan><tspan x="2941.3" y="423">investigador</tspan></text></g>
<g id="n106"><rect class="c" x="2899.5" y="493.5" width="81.5" height="40.5" rx="6"/><text><tspan x="2907" y="511.7">-dinámica</tspan><tspan x="2907" y="526.3">-sincrónica</tspan></text></g>
<g id="n107"><rect class="c" x="2987" y="494.5" width="95" height="43" rx="6"/><text><tspan x="2994.6" y="511.7">-tradicional</tspan><tspan x="2994.6" y="526.3">-participativa</tspan></text></g>
<g id="referencias"><rect class="c" x="1.5" y="996" width="2320.5" height="130" rx="7"/><text class="b" x="6" y="1014">Referencias bibliográficas</text><text x="6" y="1027">Galetto, M. &amp; Romano, A. (2012).Experimentar: aplicación del método científico a la construcción del conocimiento. Madrid, ES: Narcea Ediciones. https://bibliotecavirtual.unad.edu.co/login?url=https://search.ebscohost.com/login.aspx?direct=true&amp;db=edshlc&amp;AN=edshlc.014351208.0&amp;lang=es&amp;site=eds-live&amp;scope=sit</text><text x="6" y="1055">Gutierrez (2022). Web conferencia 2 de acompañamiento. https://unadvirtualedu.sharepoint.com/sites/Seminario346/_layouts/15/stream.aspx?id=%2Fsites%2FSeminario346%2FShared%20Documents%2FGeneral%2FRecordings%2FReuni%C3%B3n%20en%20%5FGeneral%5F%2D20220914%5F160540%2DGrabaci%C3%B3n%20de%20la%20reuni%C3%B3n%2Emp4&amp;ga=1</text><text x="6" y="1082.5">Kuhn, T. (2013). La estructura de las revoluciones científicas. Fondo de Cultura Económica. https://bibliotecavirtual.unad.edu.co/login?url=https://search.ebscohost.com/login.aspx?direct=true&amp;db=asn&amp;AN=88950850&amp;lang=es&amp;site=ehost-live</text><text x="6" y="1110">Morales, S. (2020). ¿Qué es la epistemología y para qué le sirve al científico? Scientia in Verba Magazine 6 (1):187-194. https://philpapers.org/go.pl?id=MORQEL-3&amp;u=https%3A%2F%2Fphilpapers.org%2Farchive%2FMORQEL-3.pdf</text></g>
<g id="labels" class="m">
<text class="m" x="1018" y="61">es</text>
<text class="m" x="168" y="187">se encarga de</text>
<text class="m" x="436" y="191">estudia el</text>
<text class="m" x="69" y="308">para las</text>
<text class="m" x="159" y="309">valores</text>
<text class="m" x="264" y="310">determinen</text>
<text class="m" x="379" y="278">argumentos</text>
<text class="m" x="494" y="287">planteamientos</text>
<text class="m" x="380" y="371">como</text>
<text class="m" x="496" y="368">como</text>
<text class="m" x="1032" y="184">fundamento</text>
<text class="m" x="874.6" y="281.3">origen</text>
<text class="m" x="814" y="384.5">aporto</text>
<text class="m" x="856" y="384.5">en la</text>
<text class="m" x="909" y="384.5">aparición</text>
<text class="m" x="658" y="391.3">busca</text>
<text class="m" x="651" y="484.7">en la</text>
<text class="m" x="655" y="572.3">secuencial</text>
<text class="m b" x="657" y="586.7">Singer (1991)</text>
<text class="m" x="661.6" y="666.7">por</text>
<text class="m" x="672" y="738">épocas - Culturas</text>
<text class="m" x="638" y="823.3">aporto</text>
<text class="m" x="676.5" y="822.7">al</text>
<text class="m" x="720" y="822.7">surgimiento</text>
<text class="m" x="867" y="471.3">ensayo y experimentos</text>
<text class="m"><tspan x="892.8" y="510.7">origen</tspan><tspan x="892.8" y="525.7">de</tspan></text>
<text class="m" x="819" y="573">mediante</text>
<text class="m" x="1061" y="395.7">aportan</text>
<text class="m" x="1064.7" y="481.3">redescubrimiento</text>
<text class="m" x="1061" y="588">claridad</text>
<text class="m" x="1064.7" y="659">según</text>
<text class="m"><tspan x="942" y="745">establecimiento</tspan><tspan x="942" y="759.7">de corrientes</tspan></text>
<text class="m" x="941.5" y="918.3">con aportes desde</text>
<text class="m" x="1338" y="393.3">aporto</text>
<text class="m" x="1334.8" y="483">inicio</text>
<text class="m" x="1171.8" y="582.3">desarrollo</text>
<text class="m" x="1171.3" y="684">resultado</text>
<text class="m" x="1269.5" y="585.7">evolución</text>
<text class="m" x="1262.6" y="685.7">surge</text>
<text class="m" x="1368.2" y="585">pionero</text>
<text class="m" x="1461.6" y="585.7">separación</text>
<text class="m" x="1553" y="586.7">desarrollo de</text>
<text class="m"><tspan x="1778" y="277.3">busqueda del conocimiento</tspan><tspan x="1778" y="291.3">según inferencias y herramientas</tspan></text>
<text class="m" x="1717" y="382">de carácter</text>
<text class="m" x="1880.4" y="392.3">de carácter</text>
<text class="m" x="1717.8" y="468.3">según</text>
<text class="m" x="1719.3" y="544">de</text>
<text class="m" x="1724.7" y="646.3">abordaje</text>
<text class="m" x="1677.5" y="734">como</text>
<text class="m" x="1791.3" y="734">como</text>
<text class="m" x="1717.9" y="899">pertinente</text>
<text class="m" x="1882.8" y="480.7">aspectos</text>
<text class="m" x="1882.8" y="566">análisis</text>
<text class="m" x="1883" y="675">pertinente</text>
<text class="m" x="2261" y="187.3" xml:space="preserve">aspectos propios de  la</text>
<text class="m" x="2261" y="284">se divide en</text>
<text class="m" x="2068" y="382">establecimiento</text>
<text class="m" x="2070.5" y="553">Modelos de investigación</text>
<text class="m" x="1978.6" y="668">características</text>
<text class="m" x="2072" y="668">comprobación</text>
<text class="m" x="2168.7" y="665">metodología</text>
<text class="m" x="2441" y="385.7">método</text>
<text class="m" x="2441" y="563">Modelos de investigación</text>
<text class="m" x="2283.2" y="669">encargada</text>
<text class="m" x="2370.3" y="667.3">rol</text>
<text class="m"><tspan x="2474" y="668.3">Ligada con</tspan><tspan x="2474" y="683">la</tspan></text>
<text class="m" x="2557" y="677.3">análisis</text>
<text class="m" x="2757" y="211.7">Niveles de investigación</text>
<text class="m" x="2583.4" y="352.3">falta de claridad</text>
<text class="m" x="2679.7" y="354">propósito</text>
<text class="m" x="2773.7" y="350.7">determinar</text>
<text class="m" x="2875" y="353">compara</text>
<text class="m" x="2978.3" y="353">determina</text>
<text class="m" x="2977.3" y="459.7">puede ser</text>
</g>
</svg>
